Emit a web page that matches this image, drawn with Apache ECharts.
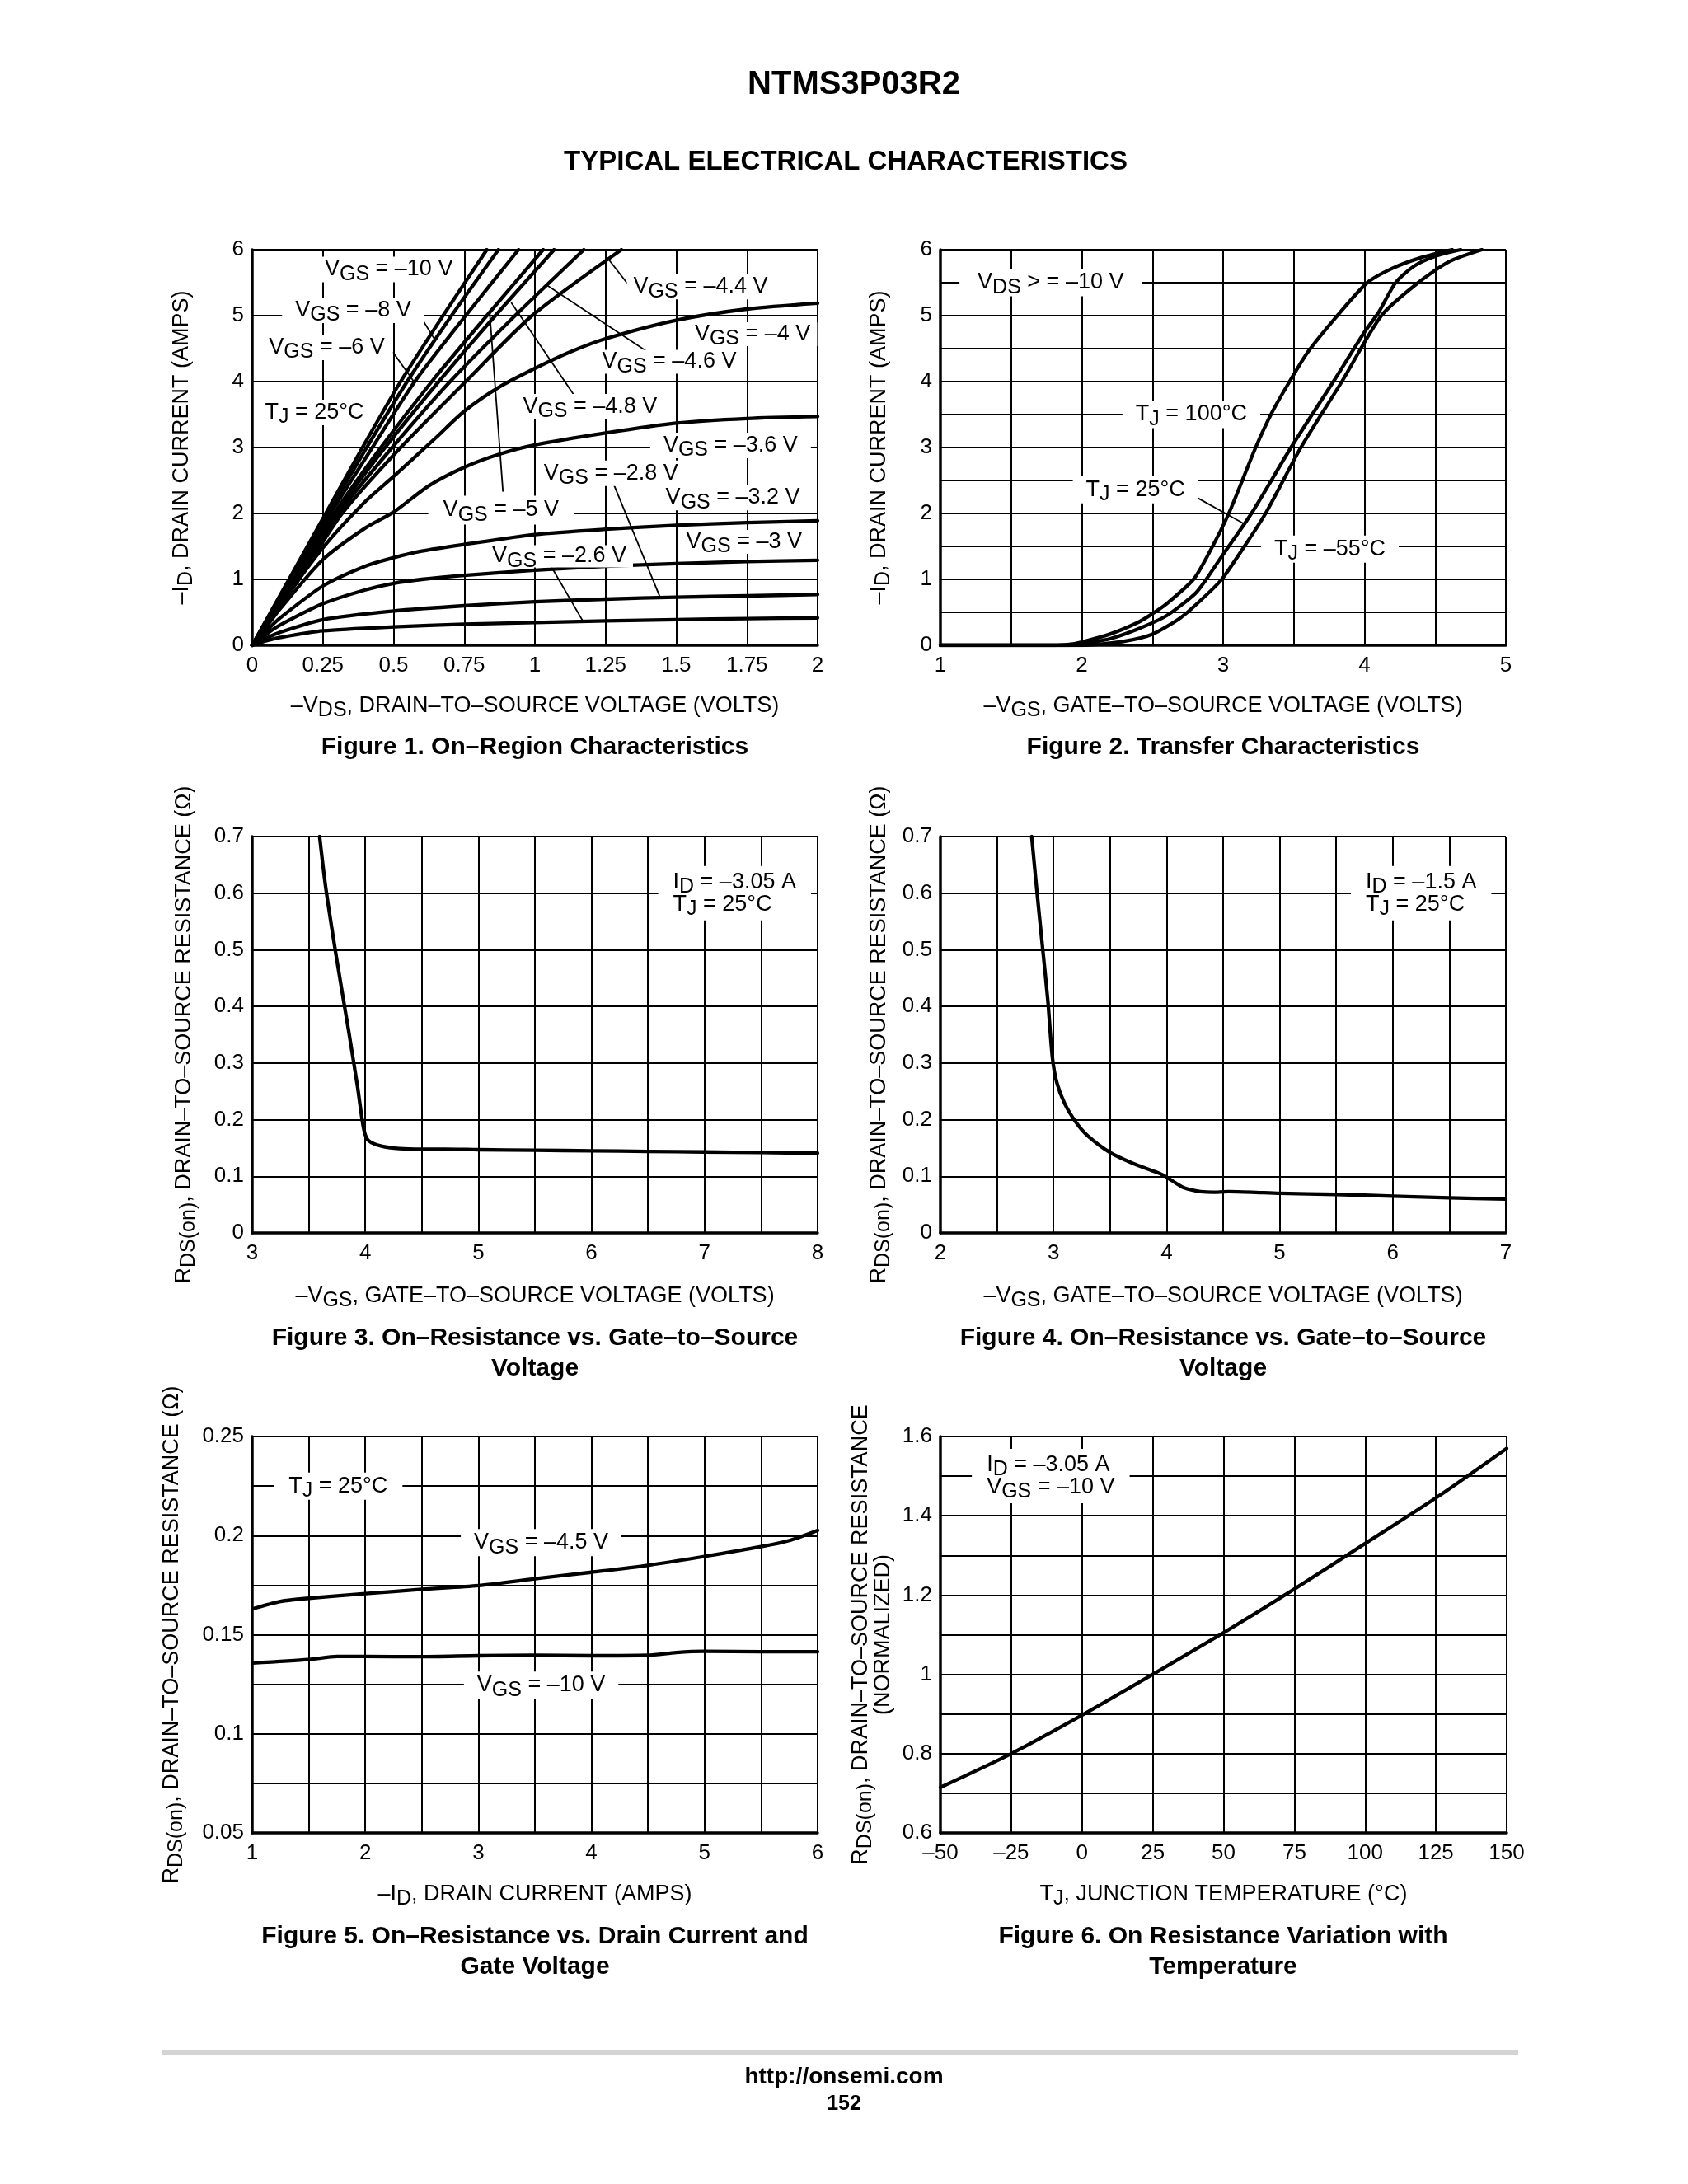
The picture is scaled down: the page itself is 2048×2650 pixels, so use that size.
<!DOCTYPE html>
<html>
<head>
<meta charset="utf-8">
<script src="https://cdn.jsdelivr.net/npm/echarts@6/dist/echarts.min.js"></script>
<style>html,body{margin:0;padding:0;background:#fff}#c{width:2048px;height:2650px}</style>
</head>
<body>
<div id="c"></div>
<script>
// ---------------- DATA ----------------
// Figure 1: On-Region Characteristics  [-VDS (V), -ID (A)]
const f1_vgs10  = [[0,0],[0.13,1],[0.26,2],[0.39,3],[0.525,4],[0.675,5],[0.83,6]];
const f1_vgs8   = [[0,0],[0.133,1],[0.268,2],[0.405,3],[0.548,4],[0.705,5],[0.871,6]];
const f1_vgs6   = [[0,0],[0.14,1],[0.277,2],[0.425,3],[0.575,4],[0.755,5],[0.942,6]];
const f1_vgs5   = [[0,0],[0.148,1],[0.29,2],[0.455,3],[0.635,4],[0.83,5],[1.029,6]];
const f1_vgs48  = [[0,0],[0.152,1],[0.296,2],[0.47,3],[0.66,4],[0.86,5],[1.068,6]];
const f1_vgs46  = [[0,0],[0.158,1],[0.305,2],[0.495,3],[0.70,4],[0.93,5],[1.173,6]];
const f1_vgs44  = [[0,0],[0.165,1],[0.318,2],[0.525,3],[0.755,4],[0.99,5],[1.306,6]];
const f1_vgs4   = [[0,0],[0.05,0.3],[0.1,0.62],[0.25,1.48],[0.4,2.18],[0.5,2.56],[0.65,3.15],[0.75,3.55],[0.875,3.92],[1.0,4.2],[1.125,4.45],[1.25,4.65],[1.5,4.93],[1.75,5.1],[2.0,5.19]];
const f1_vgs36  = [[0,0],[0.05,0.28],[0.1,0.56],[0.25,1.3],[0.4,1.78],[0.5,2.02],[0.625,2.42],[0.75,2.7],[0.875,2.9],[1.0,3.04],[1.25,3.22],[1.5,3.37],[1.75,3.44],[2.0,3.47]];
const f1_vgs32  = [[0,0],[0.05,0.22],[0.1,0.42],[0.25,0.9],[0.4,1.2],[0.5,1.33],[0.6,1.43],[0.75,1.53],[1.0,1.68],[1.25,1.76],[1.5,1.82],[1.75,1.86],[2.0,1.89]];
const f1_vgs30  = [[0,0],[0.05,0.17],[0.1,0.31],[0.25,0.63],[0.4,0.84],[0.5,0.94],[0.6,1.0],[0.75,1.06],[1.0,1.14],[1.25,1.2],[1.5,1.24],[1.75,1.27],[2.0,1.29]];
const f1_vgs28  = [[0,0],[0.05,0.11],[0.1,0.2],[0.25,0.39],[0.5,0.52],[0.75,0.6],[1.0,0.66],[1.25,0.7],[1.5,0.73],[1.75,0.75],[2.0,0.77]];
const f1_vgs26  = [[0,0],[0.05,0.07],[0.1,0.12],[0.25,0.22],[0.5,0.28],[0.75,0.32],[1.0,0.345],[1.25,0.37],[1.5,0.39],[1.75,0.405],[2.0,0.415]];
const f1XTicks = [0,0.25,0.5,0.75,1,1.25,1.5,1.75,2];
const f1XLabels = ['0','0.25','0.5','0.75','1','1.25','1.5','1.75','2'];
const f1YTicks = [0,1,2,3,4,5,6];
const f1YLabels = ['0','1','2','3','4','5','6'];

// Figure 2: Transfer Characteristics [-VGS (V), -ID (A)]
const f2_t100 = [[1,0],[1.8,0],[1.9,0.01],[2.0,0.05],[2.2,0.17],[2.4,0.35],[2.5,0.48],[2.6,0.63],[2.79,1.0],[2.9,1.4],[3.04,2.0],[3.23,3.0],[3.35,3.55],[3.47,4.0],[3.6,4.45],[3.8,4.98],[4.02,5.5],[4.2,5.72],[4.4,5.88],[4.62,6.0]];
const f2_t25  = [[1,0],[1.9,0],[2.0,0.02],[2.2,0.1],[2.4,0.25],[2.6,0.45],[2.8,0.78],[2.88,1.0],[3.0,1.38],[3.2,2.0],[3.48,3.0],[3.78,4.0],[4.0,4.75],[4.1,5.05],[4.22,5.5],[4.35,5.75],[4.5,5.9],[4.68,6.0]];
const f2_tm55 = [[1,0],[2.0,0],[2.1,0.01],[2.3,0.06],[2.5,0.17],[2.7,0.42],[2.85,0.7],[2.99,1.0],[3.15,1.5],[3.3,2.0],[3.55,3.0],[3.84,4.0],[4.12,5.0],[4.38,5.5],[4.6,5.82],[4.83,6.0]];
const f2XTicks = [1,2,3,4,5];
const f2XLabels = ['1','2','3','4','5'];
const f2YTicks = [0,1,2,3,4,5,6];
const f2YLabels = ['0','1','2','3','4','5','6'];

// Figure 3: RDS(on) vs VGS, ID = -3.05 A
const f3_rds = [[3.596,0.7],[3.65,0.61],[3.75,0.48],[3.85,0.36],[3.93,0.26],[3.98,0.19],[4.01,0.168],[4.05,0.16],[4.15,0.153],[4.3,0.149],[4.5,0.148],[4.7,0.148],[5,0.147],[5.5,0.146],[6,0.145],[6.5,0.144],[7,0.143],[7.5,0.142],[8,0.141]];
const f3XTicks = [3,4,5,6,7,8];
const f3XLabels = ['3','4','5','6','7','8'];
const f3YTicks = [0,0.1,0.2,0.3,0.4,0.5,0.6,0.7];
const f3YLabels = ['0','0.1','0.2','0.3','0.4','0.5','0.6','0.7'];

// Figure 4: RDS(on) vs VGS, ID = -1.5 A
const f4_rds = [[2.807,0.7],[2.85,0.61],[2.9,0.51],[2.95,0.41],[2.99,0.31],[3.03,0.265],[3.1,0.228],[3.2,0.195],[3.3,0.172],[3.5,0.142],[3.7,0.123],[3.9,0.108],[3.97,0.102],[4.05,0.092],[4.15,0.08],[4.3,0.073],[4.45,0.072],[4.55,0.073],[4.75,0.072],[5,0.07],[5.5,0.068],[6,0.065],[6.5,0.062],[7,0.06]];
const f4XTicks = [2,3,4,5,6,7];
const f4XLabels = ['2','3','4','5','6','7'];
const f4YTicks = f3YTicks;
const f4YLabels = f3YLabels;

// Figure 5: RDS(on) vs ID
const f5_vgs45 = [[1,0.163],[1.25,0.1668],[1.5,0.1684],[2,0.1707],[2.5,0.1729],[3,0.1748],[3.5,0.1782],[4,0.1815],[4.5,0.185],[5,0.1895],[5.5,0.1944],[5.75,0.1975],[6,0.2026]];
const f5_vgs10 = [[1,0.1357],[1.5,0.1375],[1.75,0.139],[2,0.139],[2.5,0.1389],[3,0.1394],[3.5,0.1396],[4,0.1394],[4.5,0.1396],[4.75,0.141],[5,0.1416],[5.5,0.1414],[6,0.1414]];
const f5XTicks = [1,2,3,4,5,6];
const f5XLabels = ['1','2','3','4','5','6'];
const f5YTicks = [0.05,0.1,0.15,0.2,0.25];
const f5YLabels = ['0.05','0.1','0.15','0.2','0.25'];

// Figure 6: normalized RDS(on) vs TJ
const f6_norm = [[-50,0.715],[-25,0.80],[0,0.897],[25,1.0],[50,1.105],[75,1.215],[100,1.33],[125,1.445],[150,1.57]];
const f6XTicks = [-50,-25,0,25,50,75,100,125,150];
const f6XLabels = ['–50','–25','0','25','50','75','100','125','150'];
const f6YTicks = [0.6,0.8,1.0,1.2,1.4,1.6];
const f6YLabels = ['0.6','0.8','1','1.2','1.4','1.6'];

// ---------------- BUILD ----------------
const FONT = '"Liberation Sans", Arial, Helvetica, sans-serif';
const FS = 27;
const RICH = {
  n: {fontSize: FS, lineHeight: 27, fontFamily: FONT, color: '#000', verticalAlign: 'top'},
  s: {fontSize: 25, lineHeight: 27, fontFamily: FONT, color: '#000', verticalAlign: 'top', padding: [7, 0, 0, 0]}
};
const RICH_G = {
  n: {fontSize: FS, lineHeight: 27, fontFamily: FONT, fill: '#000', verticalAlign: 'top'},
  s: {fontSize: 25, lineHeight: 27, fontFamily: FONT, fill: '#000', verticalAlign: 'top', padding: [7, 0, 0, 0]}
};
function tickFmt(vals, labs) {
  return function (v) {
    for (let i = 0; i < vals.length; i++) if (Math.abs(vals[i] - v) < 1e-6) return labs[i];
    return '';
  };
}
const grids = [
  {left: 306, top: 303, width: 686, height: 480},
  {left: 1141, top: 303, width: 686, height: 480},
  {left: 306, top: 1015, width: 686, height: 481},
  {left: 1141, top: 1015, width: 686, height: 481},
  {left: 306, top: 1743, width: 686, height: 481},
  {left: 1141, top: 1743, width: 687, height: 481}
];
function axis(gi, dim, min, max, interval, vals, labs, name, gap) {
  const a = {
    type: 'value', gridIndex: gi, min: min, max: max, interval: interval,
    axisLine: {show: true, onZero: false, lineStyle: {color: '#000', width: 3.5}},
    axisTick: {show: false},
    splitLine: {show: true, lineStyle: {color: '#000', width: 2}},
    axisLabel: {color: '#000', fontSize: 26, fontFamily: FONT, margin: dim === 'x' ? 12 : 10, formatter: tickFmt(vals, labs), showMinLabel: true, showMaxLabel: true},
    name: name, nameLocation: 'middle', nameGap: gap,
    nameTextStyle: {color: '#000', fontSize: FS, fontFamily: FONT, rich: RICH, align: 'center'}
  };
  if (dim === 'y') a.nameRotate = 90;
  return a;
}
const nVDS = '{n|–V}{s|DS}{n|, DRAIN–TO–SOURCE VOLTAGE (VOLTS)}';
const nVGS = '{n|–V}{s|GS}{n|, GATE–TO–SOURCE VOLTAGE (VOLTS)}';
const nID = '{n|–I}{s|D}{n|, DRAIN CURRENT (AMPS)}';
const nRDS = '{n|R}{s|DS(on)}{n|, DRAIN–TO–SOURCE RESISTANCE (Ω)}';
const nRDSN = '{n|R}{s|DS(on)}{n|, DRAIN–TO–SOURCE RESISTANCE}\n{n|(NORMALIZED)}';
const nTJ = '{n|T}{s|J}{n|, JUNCTION TEMPERATURE (°C)}';

const xAxes = [
  axis(0, 'x', 0, 2, 0.25, f1XTicks, f1XLabels, nVDS, 60),
  axis(1, 'x', 1, 5, 0.5, f2XTicks, f2XLabels, nVGS, 60),
  axis(2, 'x', 3, 8, 0.5, f3XTicks, f3XLabels, nVGS, 63),
  axis(3, 'x', 2, 7, 0.5, f4XTicks, f4XLabels, nVGS, 63),
  axis(4, 'x', 1, 6, 0.5, f5XTicks, f5XLabels, nID, 61),
  axis(5, 'x', -50, 150, 25, f6XTicks, f6XLabels, nTJ, 61)
];
const yAxes = [
  axis(0, 'y', 0, 6, 1, f1YTicks, f1YLabels, nID, 72),
  axis(1, 'y', 0, 6, 0.5, f2YTicks, f2YLabels, nID, 61),
  axis(2, 'y', 0, 0.7, 0.1, f3YTicks, f3YLabels, nRDS, 69),
  axis(3, 'y', 0, 0.7, 0.1, f4YTicks, f4YLabels, nRDS, 61),
  axis(4, 'y', 0.05, 0.25, 0.025, f5YTicks, f5YLabels, nRDS, 84),
  axis(5, 'y', 0.6, 1.6, 0.1, f6YTicks, f6YLabels, nRDSN, 56)
];

function curve(name, data, gi, arrows) {
  const s = {type: 'line', name: name, xAxisIndex: gi, yAxisIndex: gi, data: data, symbol: 'none',
    smooth: 0.25, silent: true, z: 3, clip: true,
    lineStyle: {color: '#000', width: 4.3, cap: 'round', join: 'round'}};
  if (arrows && arrows.length) {
    s.markLine = {silent: true, animation: false, symbol: ['none', 'arrow'], symbolSize: [0, 18],
      lineStyle: {color: '#000', width: 1.8, type: 'solid'}, label: {show: false},
      data: arrows.map(function (a) { return [{coord: [a[0], a[1]]}, {coord: [a[2], a[3]]}]; })};
  }
  return s;
}
const VGS = function (v) { return '{n|V}{s|GS}{n| = ' + v + '}'; };
const TJ = function (v) { return '{n|T}{s|J}{n| = ' + v + '}'; };

// annotation arrows (from label -> to curve), data coordinates
const arrows1 = [
  [0.585, 5.06, 0.648, 4.62],
  [0.497, 4.45, 0.575, 3.98],
  [1.334, 5.45, 1.263, 5.84],
  [1.413, 4.41, 1.04, 5.47],
  [1.139, 3.79, 0.916, 5.2],
  [1.276, 2.47, 1.442, 0.735],
  [0.887, 2.33, 0.84, 5.05],
  [1.057, 1.2, 1.168, 0.38]
];
const arrows2 = [[2.79, 2.27, 3.15, 1.84]];

const series = [
  curve('VGS = –10 V', f1_vgs10, 0, arrows1), curve('VGS = –8 V', f1_vgs8, 0), curve('VGS = –6 V', f1_vgs6, 0),
  curve('VGS = –5 V', f1_vgs5, 0), curve('VGS = –4.8 V', f1_vgs48, 0), curve('VGS = –4.6 V', f1_vgs46, 0),
  curve('VGS = –4.4 V', f1_vgs44, 0), curve('VGS = –4 V', f1_vgs4, 0), curve('VGS = –3.6 V', f1_vgs36, 0),
  curve('VGS = –3.2 V', f1_vgs32, 0), curve('VGS = –3 V', f1_vgs30, 0), curve('VGS = –2.8 V', f1_vgs28, 0),
  curve('VGS = –2.6 V', f1_vgs26, 0),
  curve('TJ = 100°C', f2_t100, 1, arrows2), curve('TJ = 25°C', f2_t25, 1), curve('TJ = –55°C', f2_tm55, 1),
  curve('RDS(on), ID = –3.05 A', f3_rds, 2),
  curve('RDS(on), ID = –1.5 A', f4_rds, 3),
  curve('VGS = –4.5 V', f5_vgs45, 4), curve('VGS = –10 V', f5_vgs10, 4),
  curve('Normalized RDS(on)', f6_norm, 5)
];

// in-plot annotations (grid index, data position, text)
const annotations = [
  {g: 0, x: 0.483, y: 5.70, t: VGS('–10 V'), pad: [2, 10]},
  {g: 0, x: 0.357, y: 5.08, t: VGS('–8 V'), pad: [2, 16]},
  {g: 0, x: 0.264, y: 4.52, t: VGS('–6 V'), pad: [2, 10]},
  {g: 0, x: 0.22, y: 3.53, t: TJ('25°C'), pad: [2, 10]},
  {g: 0, x: 1.586, y: 5.44, t: VGS('–4.4 V'), pad: [2, 8]},
  {g: 0, x: 1.77, y: 4.72, t: VGS('–4 V'), pad: [1, 8]},
  {g: 0, x: 1.475, y: 4.30, t: VGS('–4.6 V'), pad: [1, 8]},
  {g: 0, x: 1.195, y: 3.62, t: VGS('–4.8 V'), pad: [2, 8]},
  {g: 0, x: 1.692, y: 3.03, t: VGS('–3.6 V'), pad: [2, 16]},
  {g: 0, x: 1.269, y: 2.61, t: VGS('–2.8 V'), pad: [2, 8]},
  {g: 0, x: 1.70, y: 2.24, t: VGS('–3.2 V'), pad: [2, 8]},
  {g: 0, x: 0.88, y: 2.05, t: VGS('–5 V'), pad: [4, 18]},
  {g: 0, x: 1.74, y: 1.57, t: VGS('–3 V'), pad: [1, 8]},
  {g: 0, x: 1.086, y: 1.35, t: VGS('–2.6 V'), pad: [0, 8]},
  {g: 1, x: 1.78, y: 5.5, t: '{n|V}{s|DS}{n| > = –10 V}', pad: [3, 22]},
  {g: 1, x: 2.775, y: 3.5, t: TJ('100°C'), pad: [3, 16]},
  {g: 1, x: 2.38, y: 2.36, t: TJ('25°C'), pad: [3, 16]},
  {g: 1, x: 3.755, y: 1.46, t: TJ('–55°C'), pad: [3, 16]},
  {g: 2, x: 6.59, y: 0.6, t: '{n|I}{s|D}{n| = –3.05 A}\n' + TJ('25°C'), align: 'left', pad: [6, 18]},
  {g: 3, x: 5.63, y: 0.6, t: '{n|I}{s|D}{n| = –1.5 A}\n' + TJ('25°C'), align: 'left', pad: [6, 18]},
  {g: 4, x: 1.76, y: 0.225, t: TJ('25°C'), pad: [3, 18]},
  {g: 4, x: 3.555, y: 0.1965, t: VGS('–4.5 V'), pad: [3, 16]},
  {g: 4, x: 3.555, y: 0.1245, t: VGS('–10 V'), pad: [3, 16]},
  {g: 5, x: -38.9, y: 1.5, t: '{n|I}{s|D}{n| = –3.05 A}\n' + VGS('–10 V'), align: 'left', pad: [6, 18]}
];

function gtext(x, y, text, size, bold, lh) {
  return {type: 'text', x: x, y: y, silent: true, z: 10,
    style: {text: text, fill: '#000', font: (bold ? 'bold ' : '') + size + 'px ' + FONT,
      align: 'center', verticalAlign: 'middle', lineHeight: lh || size}};
}
const pageGraphic = [
  gtext(1036, 103, 'NTMS3P03R2', 40, true),
  gtext(1026, 197, 'TYPICAL ELECTRICAL CHARACTERISTICS', 33, true),
  gtext(649, 907, 'Figure 1. On–Region Characteristics', 30, true),
  gtext(1484, 907, 'Figure 2. Transfer Characteristics', 30, true),
  gtext(649, 1642, 'Figure 3. On–Resistance vs. Gate–to–Source\nVoltage', 30, true, 37),
  gtext(1484, 1642, 'Figure 4. On–Resistance vs. Gate–to–Source\nVoltage', 30, true, 37),
  gtext(649, 2368, 'Figure 5. On–Resistance vs. Drain Current and\nGate Voltage', 30, true, 37),
  gtext(1484, 2368, 'Figure 6. On Resistance Variation with\nTemperature', 30, true, 37),
  {type: 'rect', silent: true, shape: {x: 196, y: 2488, width: 1646, height: 6}, style: {fill: '#d4d4d4'}},
  gtext(1024, 2520, 'http://onsemi.com', 28, true),
  gtext(1024, 2553, '152', 25, true)
];

const chart = echarts.init(document.getElementById('c'), null, {renderer: 'canvas'});
chart.setOption({
  animation: false,
  backgroundColor: '#fff',
  grid: grids,
  xAxis: xAxes,
  yAxis: yAxes,
  series: series,
  graphic: pageGraphic
});

// place annotations through the chart's own scales
const annGraphic = annotations.map(function (a) {
  const p = chart.convertToPixel({gridIndex: a.g}, [a.x, a.y]);
  return {type: 'text', x: p[0], y: p[1], silent: true, z: 100,
    style: {text: a.t, rich: RICH_G, fill: '#000', fontSize: FS, fontFamily: FONT,
      align: a.align || 'center', verticalAlign: 'middle', backgroundColor: '#fff', padding: a.pad}};
});
chart.setOption({graphic: pageGraphic.concat(annGraphic)});
</script>
</body>
</html>
